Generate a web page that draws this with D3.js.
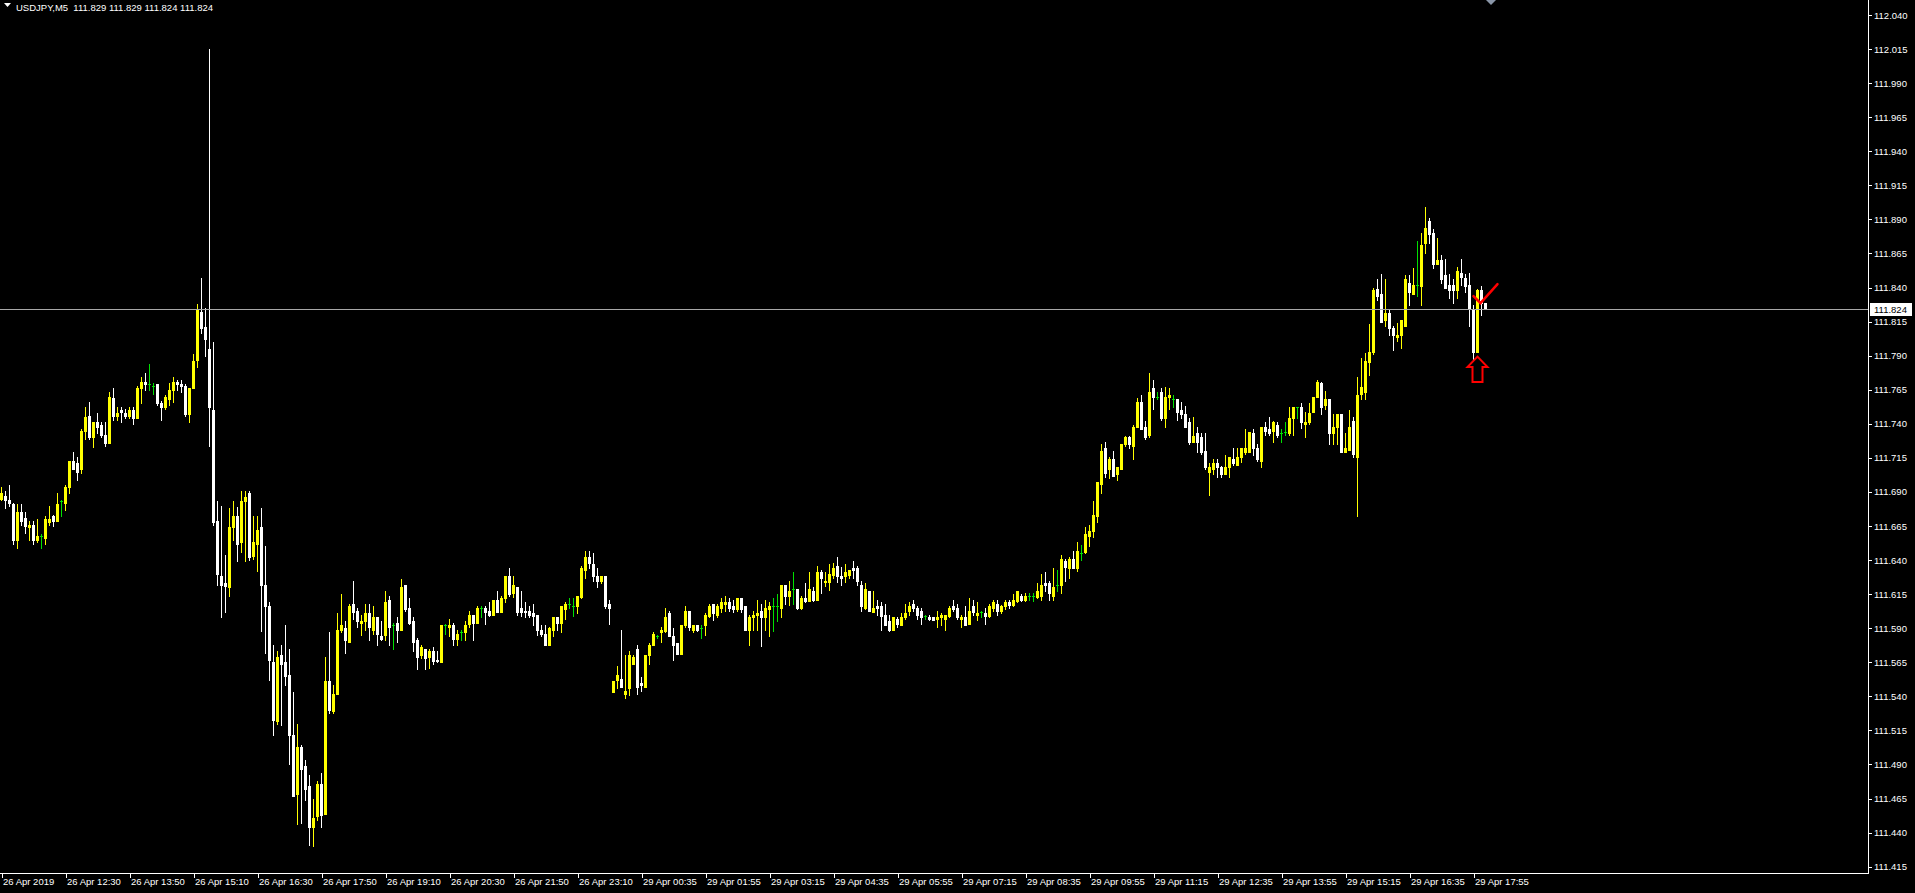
<!DOCTYPE html>
<html><head><meta charset="utf-8">
<script src="https://cdn.jsdelivr.net/npm/d3@7"></script>
<style>html,body{margin:0;padding:0;background:#000;overflow:hidden}svg{display:block}</style>
</head><body><svg id="c" width="1915" height="893"></svg>
<script>
// ---- DATA (USDJPY, M5) ----
const openP=[111.685,111.687,111.684,111.681,111.655,111.675,111.671,111.664,111.666,111.655,111.658,111.656,111.668,111.672,111.669,111.683,111.682,111.694,111.713,111.711,111.707,111.735,111.746,111.730,111.741,111.739,111.732,111.726,111.759,111.746,111.750,111.748,111.746,111.750,111.744,111.766,111.771,111.769,111.768,111.769,111.755,111.752,111.758,111.765,111.771,111.769,111.768,111.747,111.766,111.787,111.822,111.811,111.795,111.750,111.669,111.628,111.623,111.620,111.664,111.672,111.653,111.683,111.689,111.643,111.652,111.664,111.622,111.606,111.565,111.522,111.570,111.565,111.556,111.512,111.468,111.503,111.489,111.474,111.444,111.452,111.476,111.454,111.551,111.529,111.542,111.589,111.590,111.580,111.608,111.603,111.594,111.595,111.601,111.589,111.598,111.584,111.585,111.611,111.592,111.594,111.589,111.622,111.605,111.595,111.581,111.570,111.575,111.569,111.573,111.567,111.565,111.592,111.591,111.592,111.582,111.587,111.587,111.593,111.600,111.594,111.605,111.605,111.603,111.600,111.611,111.602,111.612,111.628,111.616,111.620,111.605,111.603,111.603,111.601,111.600,111.589,111.586,111.578,111.589,111.598,111.594,111.604,111.608,111.606,111.606,111.613,111.633,111.642,111.637,111.628,111.625,111.628,111.608,111.543,111.552,111.553,111.542,111.546,111.564,111.575,111.550,111.547,111.570,111.578,111.584,111.587,111.588,111.601,111.584,111.579,111.571,111.592,111.603,111.589,111.592,111.590,111.592,111.599,111.608,111.600,111.605,111.608,111.609,111.606,111.604,111.612,111.606,111.589,111.598,111.600,111.603,111.598,111.604,111.606,111.606,111.605,111.622,111.614,111.619,111.619,111.605,111.612,111.610,111.617,111.611,111.631,111.624,111.624,111.629,111.636,111.628,111.628,111.629,111.634,111.634,111.622,111.605,111.617,111.602,111.606,111.606,111.600,111.595,111.589,111.597,111.592,111.598,111.603,111.608,111.605,111.603,111.599,111.598,111.598,111.597,111.598,111.597,111.599,111.606,111.605,111.597,111.598,111.593,111.606,111.600,111.602,111.601,111.599,111.605,111.608,111.603,111.606,111.609,111.607,111.610,111.614,111.611,111.614,111.614,111.613,111.614,111.623,111.623,111.614,111.622,111.622,111.639,111.634,111.641,111.634,111.645,111.646,111.658,111.661,111.672,111.696,111.722,111.707,111.714,111.703,111.707,111.725,111.730,111.724,111.738,111.756,111.738,111.732,111.766,111.760,111.763,111.744,111.760,111.758,111.758,111.750,111.747,111.741,111.727,111.733,111.730,111.720,111.705,111.707,111.711,111.708,111.703,111.708,111.714,111.710,111.716,111.719,111.719,111.733,111.722,111.713,111.738,111.736,111.735,111.739,111.733,111.734,111.733,111.744,111.752,111.752,111.740,111.741,111.749,111.760,111.770,111.754,111.758,111.733,111.738,111.747,111.719,111.721,111.742,111.716,111.762,111.763,111.785,111.793,111.839,111.835,111.816,111.821,111.810,111.804,111.805,111.812,111.843,111.835,111.842,111.841,111.873,111.889,111.880,111.857,111.860,111.849,111.842,111.842,111.838,111.851,111.847,111.842,111.824,111.793,111.838,111.829];
const highP=[111.694,111.691,111.695,111.682,111.681,111.681,111.675,111.669,111.669,111.670,111.659,111.672,111.680,111.673,111.689,111.684,111.695,111.713,111.719,111.716,111.736,111.752,111.756,111.741,111.748,111.741,111.741,111.763,111.766,111.752,111.752,111.751,111.752,111.752,111.768,111.774,111.777,111.784,111.770,111.769,111.757,111.761,111.770,111.774,111.772,111.772,111.769,111.766,111.791,111.828,111.847,111.825,112.015,111.800,111.683,111.680,111.644,111.678,111.683,111.679,111.691,111.691,111.691,111.672,111.672,111.678,111.650,111.609,111.578,111.573,111.578,111.592,111.575,111.543,111.520,111.504,111.493,111.482,111.465,111.478,111.484,111.569,111.587,111.548,111.601,111.615,111.595,111.608,111.625,111.605,111.600,111.608,111.608,111.606,111.598,111.595,111.617,111.614,111.594,111.598,111.626,111.622,111.612,111.598,111.583,111.578,111.575,111.575,111.576,111.573,111.592,111.593,111.597,111.594,111.589,111.589,111.595,111.603,111.600,111.606,111.606,111.606,111.609,111.611,111.617,111.614,111.628,111.634,111.628,111.620,111.617,111.609,111.606,111.608,111.600,111.592,111.592,111.591,111.598,111.598,111.606,111.609,111.612,111.612,111.614,111.636,111.647,111.647,111.645,111.634,111.628,111.628,111.611,111.551,111.562,111.589,111.570,111.573,111.570,111.578,111.554,111.570,111.579,111.587,111.585,111.591,111.605,111.603,111.590,111.579,111.592,111.606,111.603,111.592,111.592,111.592,111.601,111.608,111.608,111.608,111.612,111.614,111.612,111.611,111.612,111.612,111.606,111.600,111.603,111.611,111.608,111.611,111.609,111.612,111.615,111.622,111.622,111.625,111.631,111.619,111.614,111.623,111.631,111.620,111.636,111.633,111.631,111.637,111.638,111.642,111.635,111.637,111.633,111.639,111.636,111.625,111.623,111.617,111.617,111.611,111.609,111.608,111.600,111.598,111.598,111.601,111.608,111.609,111.611,111.606,111.605,111.600,111.600,111.598,111.603,111.601,111.600,111.606,111.611,111.608,111.600,111.606,111.612,111.611,111.609,111.603,111.605,111.608,111.611,111.611,111.607,111.611,111.611,111.615,111.617,111.615,111.616,111.616,111.616,111.623,111.630,111.631,111.625,111.634,111.633,111.644,111.641,111.642,111.647,111.653,111.651,111.664,111.666,111.683,111.697,111.725,111.727,111.716,111.720,111.708,111.725,111.731,111.731,111.739,111.759,111.761,111.742,111.777,111.772,111.763,111.766,111.767,111.766,111.761,111.758,111.756,111.753,111.744,111.745,111.738,111.733,111.733,111.711,111.714,111.714,111.709,111.717,111.716,111.722,111.722,111.722,111.736,111.734,111.736,111.725,111.738,111.741,111.745,111.742,111.741,111.736,111.741,111.752,111.752,111.752,111.755,111.749,111.755,111.760,111.772,111.771,111.764,111.758,111.747,111.747,111.747,111.733,111.750,111.745,111.774,111.788,111.792,111.813,111.840,111.846,111.850,111.846,111.824,111.812,111.814,111.816,111.849,111.849,111.854,111.874,111.880,111.899,111.891,111.883,111.876,111.864,111.861,111.850,111.846,111.855,111.861,111.850,111.851,111.827,111.839,111.841,111.829];
const lowP=[111.684,111.678,111.680,111.652,111.649,111.666,111.660,111.655,111.652,111.653,111.649,111.652,111.666,111.665,111.669,111.672,111.677,111.689,111.707,111.699,111.704,111.729,111.729,111.723,111.733,111.730,111.724,111.726,111.743,111.743,111.741,111.744,111.744,111.740,111.744,111.755,111.765,111.765,111.762,111.754,111.743,111.751,111.754,111.756,111.765,111.763,111.746,111.741,111.766,111.782,111.807,111.790,111.724,111.666,111.622,111.598,111.602,111.614,111.655,111.639,111.646,111.639,111.640,111.641,111.632,111.588,111.572,111.552,111.512,111.520,111.519,111.548,111.490,111.467,111.446,111.447,111.464,111.431,111.430,111.449,111.444,111.454,111.528,111.528,111.542,111.587,111.572,111.580,111.597,111.591,111.585,111.589,111.581,111.586,111.578,111.581,111.581,111.578,111.575,111.580,111.589,111.603,111.593,111.573,111.560,111.568,111.560,111.561,111.564,111.565,111.565,111.586,111.584,111.578,111.578,111.581,111.581,111.591,111.581,111.594,111.598,111.593,111.599,111.600,111.602,111.602,111.609,111.614,111.613,111.600,111.599,111.598,111.598,111.592,111.585,111.584,111.578,111.578,111.584,111.589,111.587,111.597,111.605,111.599,111.601,111.612,111.627,111.634,111.625,111.620,111.623,111.605,111.593,111.543,111.546,111.547,111.539,111.541,111.564,111.542,111.544,111.547,111.564,111.578,111.583,111.580,111.587,111.584,111.567,111.571,111.571,111.591,111.589,111.587,111.588,111.583,111.585,111.598,111.596,111.598,111.602,111.603,111.603,111.602,111.603,111.602,111.589,111.578,111.589,111.589,111.577,111.589,111.584,111.588,111.595,111.598,111.608,111.607,111.608,111.604,111.604,111.609,111.610,111.610,111.611,111.616,111.621,111.618,111.627,111.624,111.622,111.624,111.627,111.627,111.622,111.603,111.604,111.603,111.602,111.600,111.589,111.592,111.588,111.589,111.591,111.592,111.597,111.600,111.603,111.597,111.593,111.597,111.596,111.596,111.591,111.592,111.589,111.598,111.603,111.597,111.591,111.592,111.593,111.600,111.596,111.598,111.593,111.598,111.603,111.600,111.601,111.604,111.605,111.606,111.609,111.610,111.610,111.611,111.610,111.612,111.611,111.617,111.611,111.611,111.617,111.616,111.625,111.627,111.634,111.632,111.640,111.645,111.650,111.657,111.668,111.689,111.701,111.700,111.702,111.699,111.707,111.724,111.722,111.714,111.738,111.736,111.729,111.730,111.751,111.758,111.743,111.738,111.751,111.752,111.743,111.744,111.738,111.725,111.727,111.719,111.718,111.707,111.688,111.703,111.701,111.701,111.703,111.701,111.710,111.710,111.712,111.718,111.719,111.717,111.713,111.708,111.732,111.732,111.727,111.730,111.727,111.732,111.732,111.732,111.744,111.737,111.730,111.740,111.749,111.760,111.747,111.751,111.725,111.725,111.725,111.719,111.719,111.721,111.716,111.672,111.758,111.758,111.776,111.791,111.831,111.815,111.812,111.805,111.794,111.801,111.796,111.812,111.827,111.835,111.834,111.827,111.865,111.873,111.854,111.857,111.843,111.840,111.832,111.829,111.832,111.842,111.837,111.812,111.787,111.793,111.820,111.824];
const closeP=[111.689,111.684,111.682,111.655,111.675,111.669,111.665,111.666,111.655,111.658,111.658,111.670,111.670,111.669,111.681,111.683,111.694,111.713,111.707,111.705,111.735,111.745,111.730,111.741,111.738,111.732,111.726,111.760,111.746,111.748,111.749,111.746,111.750,111.744,111.766,111.771,111.769,111.769,111.768,111.755,111.752,111.760,111.765,111.771,111.769,111.768,111.747,111.766,111.786,111.824,111.810,111.802,111.752,111.668,111.630,111.622,111.621,111.664,111.672,111.652,111.683,111.686,111.642,111.653,111.662,111.622,111.606,111.567,111.523,111.569,111.564,111.555,111.512,111.467,111.503,111.487,111.472,111.444,111.451,111.476,111.453,111.551,111.530,111.542,111.589,111.592,111.581,111.606,111.602,111.595,111.595,111.601,111.591,111.598,111.586,111.582,111.609,111.591,111.592,111.589,111.620,111.604,111.594,111.580,111.569,111.576,111.568,111.573,111.566,111.566,111.592,111.592,111.592,111.582,111.586,111.587,111.592,111.600,111.594,111.605,111.605,111.602,111.600,111.611,111.602,111.612,111.628,111.615,111.622,111.602,111.602,111.602,111.600,111.599,111.589,111.586,111.578,111.590,111.598,111.594,111.606,111.608,111.608,111.606,111.614,111.634,111.642,111.638,111.628,111.625,111.628,111.606,111.605,111.551,111.556,111.547,111.544,111.570,111.569,111.547,111.548,111.570,111.578,111.586,111.584,111.589,111.598,111.584,111.578,111.571,111.592,111.603,111.591,111.592,111.589,111.590,111.600,111.606,111.601,111.606,111.609,111.609,111.605,111.604,111.612,111.604,111.589,111.598,111.600,111.601,111.598,111.605,111.606,111.606,111.606,111.622,111.614,111.617,111.619,111.605,111.612,111.610,111.619,111.611,111.631,111.627,111.625,111.630,111.634,111.628,111.627,111.631,111.633,111.633,111.625,111.606,111.619,111.603,111.605,111.605,111.599,111.592,111.589,111.598,111.593,111.598,111.601,111.606,111.605,111.600,111.598,111.599,111.597,111.596,111.598,111.600,111.600,111.605,111.604,111.598,111.598,111.592,111.603,111.602,111.601,111.602,111.599,111.606,111.609,111.603,111.606,111.609,111.607,111.611,111.617,111.611,111.614,111.614,111.614,111.617,111.622,111.622,111.616,111.620,111.622,111.641,111.635,111.641,111.634,111.647,111.645,111.659,111.661,111.673,111.697,111.720,111.704,111.714,111.702,111.708,111.725,111.730,111.725,111.738,111.756,111.736,111.730,111.763,111.760,111.760,111.744,111.760,111.761,111.758,111.749,111.747,111.738,111.727,111.731,111.727,111.719,111.708,111.708,111.711,111.708,111.703,111.708,111.716,111.711,111.716,111.722,111.722,111.734,111.722,111.714,111.738,111.735,111.733,111.741,111.732,111.733,111.734,111.744,111.752,111.752,111.741,111.741,111.748,111.760,111.771,111.752,111.758,111.733,111.738,111.747,111.719,111.722,111.738,111.718,111.761,111.767,111.786,111.793,111.838,111.834,111.815,111.821,111.810,111.805,111.805,111.816,111.846,111.837,111.842,111.842,111.871,111.884,111.879,111.857,111.860,111.846,111.840,111.838,111.838,111.852,111.848,111.841,111.824,111.793,111.838,111.829,111.824];
const xTickLabels=["26 Apr 2019","26 Apr 12:30","26 Apr 13:50","26 Apr 15:10","26 Apr 16:30","26 Apr 17:50","26 Apr 19:10","26 Apr 20:30","26 Apr 21:50","26 Apr 23:10","29 Apr 00:35","29 Apr 01:55","29 Apr 03:15","29 Apr 04:35","29 Apr 05:55","29 Apr 07:15","29 Apr 08:35","29 Apr 09:55","29 Apr 11:15","29 Apr 12:35","29 Apr 13:55","29 Apr 15:15","29 Apr 16:35","29 Apr 17:55"];
const xTickBars=[0,16,32,48,64,80,96,112,128,144,160,176,192,208,224,240,256,272,288,304,320,336,352,368];
const yTickValues=[112.040,112.015,111.990,111.965,111.940,111.915,111.890,111.865,111.840,111.815,111.790,111.765,111.740,111.715,111.690,111.665,111.640,111.615,111.590,111.565,111.540,111.515,111.490,111.465,111.440,111.415];
const symbolTitle="USDJPY,M5";
const lastBar={open:111.829,high:111.829,low:111.824,close:111.824};
const arrowBar=369, checkBar=370;

// ---- LAYOUT ----
const W=1915,H=893, plotR=1868, plotB=873;
const svg=d3.select("#c");
svg.append("rect").attr("width",W).attr("height",H).attr("fill","#000");
const N=openP.length;
const x=d3.scalePoint().domain(d3.range(N)).range([1,1+4*(N-1)]);
const y=d3.scaleLinear().domain([111.415,112.040]).range([866.7,15]);
const FONT="'Liberation Sans',Arial,sans-serif";
const UP="#ffff00", DN="#ffffff", DOJI="#00e000";

const bars=d3.range(N).map(i=>({i,o:openP[i],h:highP[i],l:lowP[i],c:closeP[i]}));
const col=d=>d.c>d.o?UP:(d.c<d.o?DN:DOJI);
const g=svg.append("g").attr("shape-rendering","crispEdges");
// wicks
g.selectAll("rect.w").data(bars).join("rect").attr("class","w")
 .attr("x",d=>x(d.i)).attr("width",1)
 .attr("y",d=>Math.round(y(d.h)))
 .attr("height",d=>Math.max(1,Math.round(y(d.l))-Math.round(y(d.h))+1))
 .attr("fill",col);
// bodies
g.selectAll("rect.b").data(bars).join("rect").attr("class","b")
 .attr("x",d=>x(d.i)-1).attr("width",3)
 .attr("y",d=>Math.round(y(Math.max(d.o,d.c))))
 .attr("height",d=>Math.max(1,Math.round(y(Math.min(d.o,d.c)))-Math.round(y(Math.max(d.o,d.c)))+1))
 .attr("fill",col);

// last price line
const ly=Math.round(y(lastBar.close))+0.5;
svg.append("line").attr("x1",0).attr("x2",plotR).attr("y1",ly).attr("y2",ly)
 .attr("stroke","#a8a8a8").attr("stroke-width",1);

// frame
svg.append("line").attr("x1",plotR+0.5).attr("x2",plotR+0.5).attr("y1",0).attr("y2",plotB+1).attr("stroke","#fff");
svg.append("line").attr("x1",0).attr("x2",plotR+1).attr("y1",plotB+0.5).attr("y2",plotB+0.5).attr("stroke","#fff");

// y axis
const ya=svg.append("g").attr("transform",`translate(${plotR+1},0)`)
 .call(d3.axisRight(y).tickValues(yTickValues).tickSize(3).tickPadding(3).tickFormat(d3.format(".3f")));
ya.select(".domain").remove();
ya.selectAll("line").attr("stroke","#fff").attr("shape-rendering","crispEdges");
ya.selectAll("text").attr("fill","#fff").attr("font-family",FONT).attr("font-size",9.5).attr("x",5);

// current price label
const lg=svg.append("g").attr("transform",`translate(${plotR+2},${Math.round(y(lastBar.close))})`);
lg.append("rect").attr("x",0).attr("y",-6).attr("width",42).attr("height",13).attr("fill","#fff");
lg.append("text").attr("x",4).attr("y",4).attr("fill","#000").attr("font-family",FONT).attr("font-size",9.5).text(d3.format(".3f")(lastBar.close));

// x axis
const xa=svg.append("g").attr("transform",`translate(0.5,${plotB+1})`)
 .call(d3.axisBottom(x).tickValues(xTickBars).tickSize(4).tickFormat((d,k)=>xTickLabels[k]));
xa.select(".domain").remove();
xa.selectAll("line").attr("stroke","#fff").attr("shape-rendering","crispEdges");
xa.selectAll("text").attr("fill","#fff").attr("font-family",FONT).attr("font-size",9.5)
 .attr("text-anchor","start").attr("x",1).attr("y",4).attr("dy","0.71em");

// header
svg.append("path").attr("d","M4,3 L11,3 L7.5,7 Z").attr("fill","#fff");
svg.append("text").attr("x",16).attr("y",11).attr("fill","#fff").attr("font-family",FONT).attr("font-size",9.5)
 .attr("xml:space","preserve")
 .text(`${symbolTitle}  ${[lastBar.open,lastBar.high,lastBar.low,lastBar.close].map(d3.format(".3f")).join(" ")}`);

// shift marker at top
const sx=x(N-1)+6;
svg.append("path").attr("d",`M${sx-5},0 L${sx+5},0 L${sx},5 Z`).attr("fill","#8a96a8");

// red up arrow below bar 369
const ax=x(arrowBar)+0.5, ay=y(lowP[arrowBar])+5;
svg.append("path").attr("d",`M${ax},${ay} L${ax+10},${ay+10.5} L${ax+5},${ay+10.5} L${ax+5},${ay+25.5} L${ax-5},${ay+25.5} L${ax-5},${ay+10.5} L${ax-10},${ay+10.5} Z`)
 .attr("fill","none").attr("stroke","#ff0000").attr("stroke-width",2);
// red check mark near bar 370
const cx=x(checkBar)+0.5, cy=y(highP[checkBar]);
svg.append("path").attr("d",`M${cx-8},${cy+10} L${cx-1},${cy+17} L${cx+16},${cy-2}`)
 .attr("fill","none").attr("stroke","#ff0000").attr("stroke-width",2.5).attr("stroke-linecap","round");
</script></body></html>
